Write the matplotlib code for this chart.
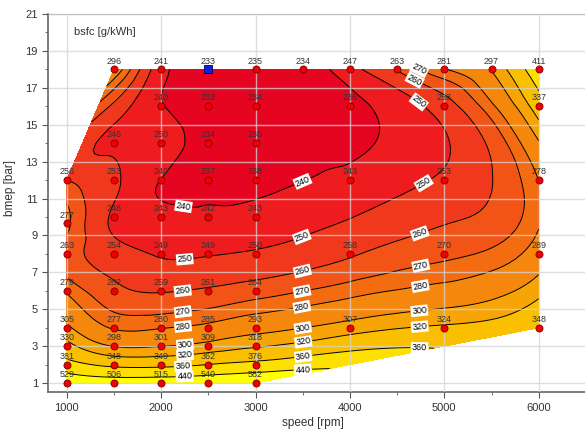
import numpy as np
import matplotlib
matplotlib.use("Agg")
import matplotlib.pyplot as plt
import matplotlib.tri as mtri
from matplotlib.ticker import MultipleLocator

plt.rcParams["font.family"] = ["Liberation Sans", "DejaVu Sans"]

# measured operating points, one list entry per point
speed = [1500, 2000, 2500, 3000, 3500, 4000, 4500, 5000, 5500, 6000,
         2000, 2500, 3000, 4000, 5000, 6000,
         1500, 2000, 2500, 3000,
         1000, 1500, 2000, 2500, 3000, 4000, 5000, 6000,
         1000, 1500, 2000, 2500, 3000,
         1000, 1500, 2000, 2500, 3000, 4000, 5000, 6000,
         1000, 1500, 2000, 2500, 3000,
         1000, 1500, 2000, 2500, 3000, 4000, 5000, 6000,
         1000, 1500, 2000, 2500, 3000,
         1000, 1500, 2000, 2500, 3000,
         1000, 1500, 2000, 2500, 3000]
bmep = [18, 18, 18, 18, 18, 18, 18, 18, 18, 18,
        16, 16, 16, 16, 16, 16,
        14, 14, 14, 14,
        12, 12, 12, 12, 12, 12, 12, 12,
        9.65, 10, 10, 10, 10,
        8, 8, 8, 8, 8, 8, 8, 8,
        6, 6, 6, 6, 6,
        4, 4, 4, 4, 4, 4, 4, 4,
        3, 3, 3, 3, 3,
        2, 2, 2, 2, 2,
        1, 1, 1, 1, 1]
bsfc = [296, 241, 233, 235, 234, 247, 263, 281, 297, 411,
        240, 233, 234, 236, 253, 337,
        246, 250, 234, 236,
        256, 253, 240, 237, 238, 243, 253, 278,
        277, 248, 243, 242, 243,
        263, 254, 249, 249, 250, 258, 270, 289,
        279, 262, 259, 261, 264,
        305, 277, 280, 285, 293, 307, 324, 348,
        330, 298, 301, 309, 318,
        381, 348, 349, 362, 376,
        529, 506, 515, 540, 582]

levels = [240, 250, 260, 270, 280, 300, 320, 360, 440]
band_colors = ["#e60520", "#ee1c1e", "#f0381c", "#f25418", "#f46c12",
               "#f5870c", "#f7a406", "#fac000", "#fde000", "#ffff00"]

# where the contour labels sit (speed, bmep)
label_pos = {
    240: [(2250, 11.0), (3500, 11.9)],
    250: [(4740, 16.3), (2250, 7.7), (3500, 8.8), (4760, 12.0)],
    260: [(4660, 17.2), (2230, 5.95), (3500, 7.0), (4740, 9.1)],
    270: [(4680, 17.9), (2230, 4.9), (3500, 5.8), (4740, 7.6)],
    280: [(2230, 4.15), (3500, 4.9), (4740, 6.4)],
    300: [(2250, 3.2), (3500, 4.0), (4740, 4.7)],
    320: [(2250, 2.65), (3500, 3.4), (4740, 4.0)],
    360: [(2230, 2.1), (3500, 2.65), (4740, 3.25)],
    440: [(2250, 1.5), (3500, 1.83)],
}

x = np.array(speed, float)
y = np.array(bmep, float)
z = np.array(bsfc, float)


def _features(sp, pm, deg=5):
    s = (sp - 3500.0) / 2500.0
    t = 2.0 * np.log(pm) / np.log(18.0) - 1.0
    return np.column_stack([s ** i * t ** j
                            for i in range(deg + 1) for j in range(deg + 1 - i)])


# map model: polynomial trend of efficiency (1/bsfc) plus most of the residual
eta = 1000.0 / z
coef, *_ = np.linalg.lstsq(_features(x, y), eta, rcond=None)
resid = eta - _features(x, y) @ coef

# triangulate in scaled coordinates so the grid gives tidy triangles
tri0 = mtri.Triangulation(x / 500.0, y / 2.0)
tri = mtri.Triangulation(x, y, tri0.triangles)
interp = mtri.CubicTriInterpolator(tri, resid, kind="min_E")
tri_f, r_f = mtri.UniformTriRefiner(tri).refine_field(resid, triinterpolator=interp, subdiv=4)
z_f = 1000.0 / (_features(tri_f.x, tri_f.y) @ coef + 0.7 * r_f)

fig = plt.figure(figsize=(5.85, 4.29), dpi=100)
ax = fig.add_axes([0.0826, 0.0855, 0.9174, 0.8818])

fill_levels = [0] + levels + [5000]
ax.tricontourf(tri_f, z_f, levels=fill_levels, colors=band_colors, zorder=1)

# one contour set per level so each level gets its own label spots
for lev in levels:
    cs = ax.tricontour(tri_f, z_f, levels=[lev], colors="k", linewidths=0.7, zorder=2)
    texts = ax.clabel(cs, manual=label_pos[lev], fmt="%d", fontsize=6.5,
                      inline=True, inline_spacing=3)
    for t in texts:
        t.set_bbox(dict(facecolor="white", edgecolor="none", pad=0.8))

best = int(np.argmin(z))
others = np.arange(len(z)) != best
ax.scatter(x[others], y[others], s=26, c="#f00000", edgecolors="#7a0000",
           linewidths=0.6, zorder=5)
ax.scatter(x[best], y[best], s=30, marker="s", c="#1020e0", edgecolors="#000060",
           linewidths=0.6, zorder=5)
for xi, yi, zi in zip(x, y, z):
    ax.annotate(f"{zi:.0f}", (xi, yi), xytext=(0, 6), textcoords="offset points",
                ha="center", va="center", fontsize=6.5, color="#333333", zorder=6)

ax.set_xlim(805, 6490)
ax.set_ylim(0.5, 21)
ax.xaxis.set_major_locator(MultipleLocator(1000))
ax.xaxis.set_minor_locator(MultipleLocator(500))
ax.set_yticks(np.arange(1, 22, 2))
ax.yaxis.set_minor_locator(MultipleLocator(1))
ax.tick_params(which="major", length=4, color="#555555", labelsize=8,
               labelcolor="#333333")
ax.tick_params(which="minor", length=2, color="#555555")

ax.set_axisbelow(False)
ax.grid(True, which="major", color="#d4d4d4", linewidth=1.0, alpha=0.75)

for side in ("left", "bottom"):
    ax.spines[side].set_color("#666666")
    ax.spines[side].set_linewidth(1.2)
ax.spines["top"].set_color("#888888")
ax.spines["right"].set_visible(False)

ax.set_xlabel("speed [rpm]", fontsize=8.5, color="#333333")
ax.set_ylabel("bmep [bar]", fontsize=8.5, color="#333333")
ax.xaxis.set_label_coords(0.493, -0.065)
ax.yaxis.set_label_coords(-0.060, 0.54)
ax.text(0.048, 0.952, "bsfc [g/kWh]", transform=ax.transAxes, fontsize=8,
        color="#333333", va="center")

fig.savefig("out.png", dpi=100)
